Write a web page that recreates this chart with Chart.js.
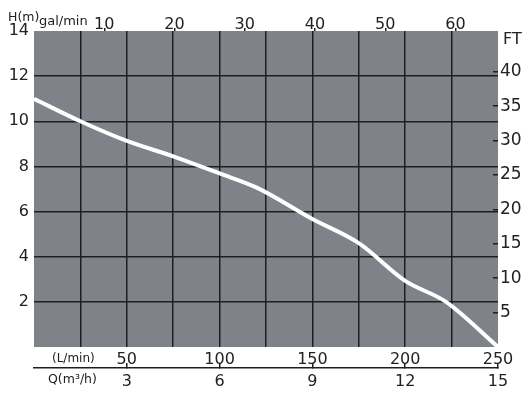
<!DOCTYPE html>
<html>
<head>
<meta charset="utf-8">
<script src="https://cdn.jsdelivr.net/npm/chart.js@4/dist/chart.umd.min.js"></script>
<style>
  body { margin: 0; background: #fff; }
  #wrap { position: relative; width: 530px; height: 395px; }
  .lbl { position: absolute; font-family: "DejaVu Sans", sans-serif; color: #222; line-height: 1; white-space: nowrap; }
</style>
</head>
<body>
<div id="wrap">
  <canvas id="pumpChart" width="530" height="395"></canvas>
  <div class="lbl" style="left:8px; top:11px; font-size:12.5px;">H(m)</div>
  <div class="lbl" style="left:39px; top:14px; font-size:13px;">gal/min</div>
  <div class="lbl" style="left:503px; top:31px; font-size:16px;">FT</div>
  <div class="lbl" style="left:52px; top:352px; font-size:12px;">(L/min)</div>
  <div class="lbl" style="left:48px; top:373px; font-size:12.5px;">Q(m³/h)</div>
</div>
<script>
// flow in L/min, head in metres
const flowLpm = [0, 25, 50, 75, 100, 120, 150, 175, 200, 222, 250];
const headM = [11.0, 10.0, 9.13, 8.45, 7.69, 7.06, 5.67, 4.6, 2.93, 2.0, 0];

// conversions for the secondary axes
const LPM_PER_GPM = 3.78541;
const FT_PER_M = 3.28084;
const maxFlow = 250;
const maxHead = 14;
const ftTicksMax = 40;

const gridDark = '#1e1e1e';
const textDark = '#222';
const plotGrey = '#7f8389';

const hideEdges = (lo, hi) => (ctx) => {
    const v = ctx.tick ? ctx.tick.value : null;
    return (v === lo || v === hi || (hi < 0 && v > -hi)) ? 'rgba(0,0,0,0)' : gridDark;
};

const plotBg = {
    id: 'plotBg',
    beforeDraw(chart) {
        const { ctx, chartArea: a } = chart;
        ctx.save();
        ctx.fillStyle = plotGrey;
        ctx.fillRect(a.left, a.top, a.right - a.left, a.bottom - a.top);
        ctx.restore();
    }
};

new Chart(document.getElementById('pumpChart'), {
    type: 'line',
    data: {
        datasets: [{
            data: flowLpm.map((q, i) => ({ x: q, y: headM[i] })),
            borderColor: '#ffffff',
            borderWidth: 4,
            pointRadius: 0,
            fill: false,
            cubicInterpolationMode: 'monotone',
            xAxisID: 'x',
            yAxisID: 'y'
        }]
    },
    options: {
        responsive: false,
        animation: false,
        devicePixelRatio: 1,
        layout: { padding: 0 },
        plugins: { legend: { display: false }, tooltip: { enabled: false } },
        scales: {
            x: {
                type: 'linear', position: 'bottom', weight: 0,
                min: 0, max: maxFlow,
                border: { display: false },
                grid: { color: hideEdges(0, maxFlow), lineWidth: 1.5, drawTicks: false },
                ticks: {
                    stepSize: 25, autoSkip: false, maxRotation: 0, padding: 3,
                    color: textDark, font: { family: 'DejaVu Sans', size: 16 },
                    callback: v => (v > 0 && v % 50 === 0) ? v : ''
                },
                afterFit: s => { s.height = 21; }
            },
            q: {
                type: 'linear', position: 'bottom', weight: 1,
                min: 0, max: maxFlow * 60 / 1000,
                border: { display: true, color: gridDark, width: 1.5 },
                grid: { drawOnChartArea: false, drawTicks: true, tickLength: -5, color: hideEdges(0, -999), lineWidth: 1.5 },
                ticks: {
                    stepSize: 3, autoSkip: false, maxRotation: 0, padding: 9,
                    color: textDark, font: { family: 'DejaVu Sans', size: 16 },
                    callback: v => v > 0 ? v : ''
                },
                afterFit: s => { s.height = 27; }
            },
            gpm: {
                type: 'linear', position: 'top',
                min: 0, max: maxFlow / LPM_PER_GPM,
                border: { display: false },
                grid: { drawOnChartArea: false, drawTicks: true, tickLength: 3, color: hideEdges(0, -60), lineWidth: 1.5 },
                ticks: {
                    stepSize: 10, includeBounds: false, autoSkip: false, maxRotation: 0, padding: -6,
                    color: textDark, font: { family: 'DejaVu Sans', size: 16 },
                    callback: v => (v > 0 && v <= 60) ? v : ''
                },
                afterFit: s => { s.height = 31; }
            },
            y: {
                type: 'linear', position: 'left',
                min: 0, max: maxHead,
                border: { display: false },
                grid: { color: hideEdges(0, maxHead), lineWidth: 1.5, drawTicks: false },
                ticks: {
                    stepSize: 2, padding: 5,
                    color: textDark, font: { family: 'DejaVu Sans', size: 16 },
                    callback: v => v > 0 ? v : ''
                },
                afterFit: s => { s.width = 34; }
            },
            ft: {
                type: 'linear', position: 'right',
                min: 0, max: maxHead * FT_PER_M,
                border: { display: false },
                grid: { drawOnChartArea: false, drawTicks: true, tickLength: -5, color: hideEdges(0, -ftTicksMax), lineWidth: 1.5 },
                ticks: {
                    stepSize: 5, includeBounds: false, padding: 7,
                    color: textDark, font: { family: 'DejaVu Sans', size: 17 },
                    callback: v => (v > 0 && v <= ftTicksMax) ? v : ''
                },
                afterFit: s => { s.width = 32; }
            }
        }
    },
    plugins: [plotBg]
});
</script>
</body>
</html>
